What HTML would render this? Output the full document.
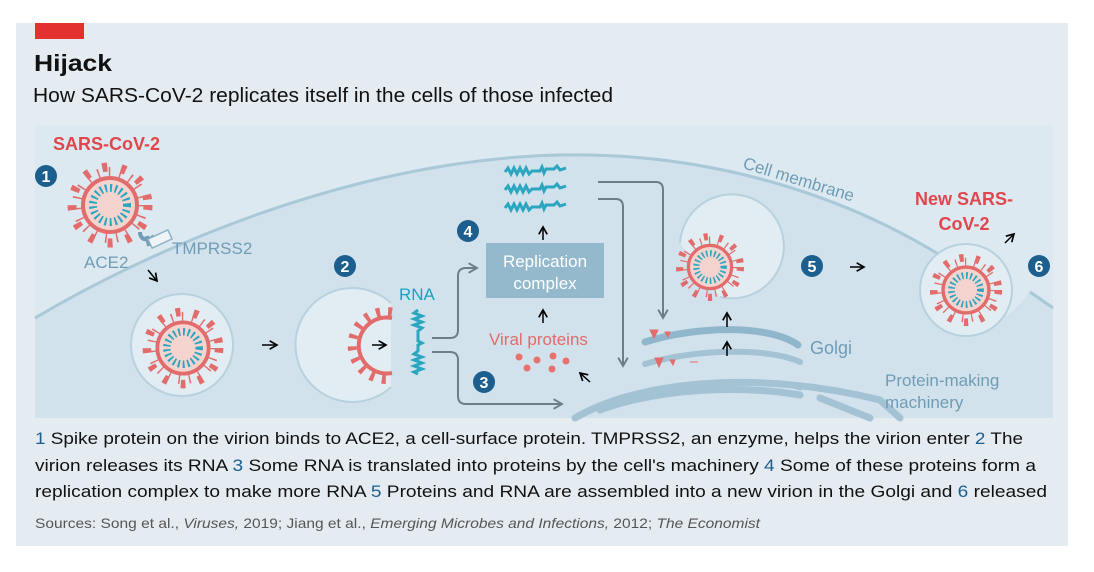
<!DOCTYPE html>
<html><head><meta charset="utf-8"><style>
html,body{margin:0;padding:0;background:#fff;width:1094px;height:572px;overflow:hidden}
svg{display:block}
text{font-family:"Liberation Sans",sans-serif}
</style></head><body>
<svg width="1094" height="572" viewBox="0 0 1094 572" xmlns="http://www.w3.org/2000/svg">
<defs>
<marker id="ah" viewBox="0 0 10 10" refX="8" refY="5" markerWidth="7" markerHeight="7" orient="auto"><path d="M1,1 L8,5 L1,9" fill="none" stroke="#000" stroke-width="1.6"/></marker>
<marker id="ag" viewBox="0 0 10 10" refX="8" refY="5" markerWidth="6" markerHeight="6" orient="auto"><path d="M1,1 L8,5 L1,9" fill="none" stroke="#6f7d86" stroke-width="1.6"/></marker>
<g id="virus">
<circle r="38" fill="none" stroke="#e26b6b" stroke-width="9" stroke-dasharray="5 14"/>
<circle r="33" fill="none" stroke="#e26b6b" stroke-width="10" stroke-dasharray="1.5 9.5"/>
<circle r="27" fill="#f5d4cf" stroke="#e26b6b" stroke-width="4"/>
<circle r="17" fill="none" stroke="#2aa6c0" stroke-width="8" stroke-dasharray="2 3"/>
<circle r="13" fill="#f5d4cf"/>
</g>
</defs>
<rect x="16" y="23" width="1052" height="523" fill="#e4ecf2"/>
<rect x="35" y="23" width="49" height="16" fill="#e3312d"/>
<text x="34" y="71" font-size="23" font-weight="bold" fill="#111" textLength="78" lengthAdjust="spacingAndGlyphs">Hijack</text>
<text x="33" y="102" font-size="20" fill="#111" textLength="580" lengthAdjust="spacingAndGlyphs">How SARS-CoV-2 replicates itself in the cells of those infected</text>
<rect x="35" y="125" width="1018" height="293" fill="#dde9f0"/>
<!-- cell body -->
<path d="M35,318 C150,250 350,160 560,155 C720,152 850,200 940,255 C930,300 960,330 975,327 C1005,325 1025,300 1030,290 L1053,305 L1053,418 L35,418 Z" fill="#d2e2ec"/>
<path d="M35,318 C150,250 350,160 560,155 C720,152 850,200 940,255" fill="none" stroke="#a9c8d8" stroke-width="3"/>
<path d="M1030,292 L1053,308" fill="none" stroke="#a9c8d8" stroke-width="3"/>
<!-- nucleus/ER -->
<g fill="none" stroke="#a3c2d4" stroke-width="7" stroke-linecap="round">
<path d="M575,418 C640,380 760,370 880,400 L900,418"/>
<path d="M600,410 C660,388 740,385 800,395"/>
<path d="M645,395 C700,380 770,378 800,388" stroke-width="5"/>
<path d="M645,364 C700,348 770,348 800,362" stroke-width="6"/>
<path d="M820,398 L870,418"/>
</g>
<path d="M645,342 C700,325 770,325 798,345" fill="none" stroke="#90b6cb" stroke-width="7" stroke-linecap="round"/>
<path d="M650,330 l8,0 l-4,8z M665,332 l5,0 l-2,5z M655,358 l8,0 l-4,9z M670,360 l5,0 l-2,5z M690,362 l8,0" fill="#e26b6b" stroke="#e26b6b"/>
<!-- step 1 -->
<text x="53" y="150" font-size="18" font-weight="bold" fill="#e0474c">SARS-CoV-2</text>
<use href="#virus" transform="translate(110,205)"/>
<path d="M140,232 c0,8 8,10 14,4 M147,236 l2,10" stroke="#6f9cb6" stroke-width="4" fill="none"/>
<rect x="149" y="234" width="22" height="10" transform="rotate(-25 160 239)" fill="#eef4f7" stroke="#8fb2c5" stroke-width="1.5"/>
<text x="84" y="268" font-size="17" fill="#6f9cb6">ACE2</text>
<text x="172" y="254" font-size="17" fill="#6f9cb6">TMPRSS2</text>
<path d="M148,270 L157,281" stroke="#000" stroke-width="1.5" marker-end="url(#ah)"/>
<circle cx="182" cy="345" r="51" fill="#e2edf3" stroke="#b7d1de" stroke-width="2"/>
<use href="#virus" transform="translate(183,348) scale(0.95)"/>
<path d="M262,345 L277,345" stroke="#000" stroke-width="1.5" marker-end="url(#ah)"/>
<!-- step 2 -->
<path d="M391,303 A57,57 0 1 0 391,387" fill="#e2edf3" stroke="#b7d1de" stroke-width="2"/>
<path d="M392,318 A28,28 0 1 0 392,373" fill="none" stroke="#e26b6b" stroke-width="4"/>
<path d="M392,312 A34,34 0 1 0 392,379" fill="none" stroke="#e26b6b" stroke-width="9" stroke-dasharray="4 8"/>
<path d="M372,345 L386,345" stroke="#000" stroke-width="1.5" marker-end="url(#ah)"/>
<text x="399" y="300" font-size="17" fill="#17a3bf">RNA</text>
<path d="M418,310 l-4,3 l8,3 l-8,3 l8,3 l-8,3 l8,3 l-4,3 l0,10 l4,2 l-4,2 l0,6 l-4,3 l8,3 l-8,3 l8,3 l-8,3 l8,3 l-8,3 l4,2" fill="none" stroke="#2aa6c0" stroke-width="3"/>
<circle cx="345" cy="266" r="11" fill="#1c5e8d"/><text x="345" y="272" font-size="16" font-weight="bold" fill="#fff" text-anchor="middle">2</text>
<!-- connectors -->
<g fill="none" stroke="#6f7d86" stroke-width="2">
<path d="M432,338 L450,338 Q458,338 458,330 L458,276 Q458,268 466,268 L477,268" marker-end="url(#ag)"/>
<path d="M432,352 L450,352 Q458,352 458,360 L458,396 Q458,404 466,404 L562,404" marker-end="url(#ag)"/>
<path d="M598,182 L656,182 Q663,182 663,190 L663,318" marker-end="url(#ag)"/>
<path d="M598,199 L616,199 Q623,199 623,207 L623,366" marker-end="url(#ag)"/>
</g>
<!-- RNA copies -->
<g fill="none" stroke="#2aa6c0" stroke-width="3">
<path d="M505,172 l3,-4 l3,6 l3,-6 l3,6 l3,-6 l3,6 l3,-6 l3,6 l3,-3 l8,0 l2,-4 l2,6 l2,-4 l8,0 l3,-3 l3,4 l6,-2"/>
<path d="M505,190 l3,-4 l3,6 l3,-6 l3,6 l3,-6 l3,6 l3,-6 l3,6 l3,-3 l8,0 l2,-4 l2,6 l2,-4 l8,0 l3,-3 l3,4 l6,-2"/>
<path d="M505,208 l3,-4 l3,6 l3,-6 l3,6 l3,-6 l3,6 l3,-6 l3,6 l3,-3 l8,0 l2,-4 l2,6 l2,-4 l8,0 l3,-3 l3,4 l6,-2"/>
</g>
<path d="M543,240 L543,227" stroke="#000" stroke-width="1.5" marker-end="url(#ah)"/>
<rect x="486" y="243" width="118" height="55" fill="#94b9cc"/>
<text x="545" y="267" font-size="17" fill="#fff" text-anchor="middle">Replication</text>
<text x="545" y="289" font-size="17" fill="#fff" text-anchor="middle">complex</text>
<path d="M543,323 L543,310" stroke="#000" stroke-width="1.5" marker-end="url(#ah)"/>
<text x="489" y="345" font-size="17" fill="#e26b6b">Viral proteins</text>
<g fill="#e8716f"><circle cx="519" cy="357" r="3.5"/><circle cx="537" cy="360" r="3.5"/><circle cx="553" cy="356" r="3.5"/><circle cx="566" cy="361" r="3.5"/><circle cx="527" cy="368" r="3.5"/><circle cx="552" cy="369" r="3.5"/></g>
<path d="M590,382 L580,373" stroke="#000" stroke-width="1.5" marker-end="url(#ah)"/>
<circle cx="468" cy="231" r="11" fill="#1c5e8d"/><text x="468" y="237" font-size="16" font-weight="bold" fill="#fff" text-anchor="middle">4</text>
<circle cx="484" cy="382" r="11" fill="#1c5e8d"/><text x="484" y="388" font-size="16" font-weight="bold" fill="#fff" text-anchor="middle">3</text>
<!-- step 5 -->
<path d="M680,243 A52,52 0 1 1 720,297" fill="#e2edf3" stroke="#b7d1de" stroke-width="2"/>
<use href="#virus" transform="translate(710,267) scale(0.8)"/>
<path d="M727,327 L727,313" stroke="#000" stroke-width="1.5" marker-end="url(#ah)"/>
<path d="M727,356 L727,342" stroke="#000" stroke-width="1.5" marker-end="url(#ah)"/>
<text x="810" y="354" font-size="18" fill="#6f9cb6">Golgi</text>
<text x="742" y="168" font-size="17" fill="#6f9cb6" transform="rotate(17 742 168)">Cell membrane</text>
<circle cx="812" cy="266" r="11" fill="#1c5e8d"/><text x="812" y="272" font-size="16" font-weight="bold" fill="#fff" text-anchor="middle">5</text>
<path d="M850,267 L864,267" stroke="#000" stroke-width="1.5" marker-end="url(#ah)"/>
<text x="885" y="386" font-size="17" fill="#6f9cb6">Protein-making</text>
<text x="885" y="408" font-size="17" fill="#6f9cb6">machinery</text>
<!-- step 6 -->
<circle cx="966" cy="290" r="46" fill="#e2edf3" stroke="#b7d1de" stroke-width="2"/>
<use href="#virus" transform="translate(966,290) scale(0.85)"/>
<text x="964" y="205" font-size="18" font-weight="bold" fill="#e0474c" text-anchor="middle">New SARS-</text>
<text x="964" y="230" font-size="18" font-weight="bold" fill="#e0474c" text-anchor="middle">CoV-2</text>
<path d="M1005,243 L1014,234" stroke="#000" stroke-width="1.5" marker-end="url(#ah)"/>
<circle cx="1039" cy="266" r="11" fill="#1c5e8d"/><text x="1039" y="272" font-size="16" font-weight="bold" fill="#fff" text-anchor="middle">6</text>
<circle cx="46" cy="176" r="11" fill="#1c5e8d"/><text x="46" y="182" font-size="16" font-weight="bold" fill="#fff" text-anchor="middle">1</text>
<!-- caption -->
<text x="35" y="444" font-size="17" fill="#111" textLength="988" lengthAdjust="spacingAndGlyphs"><tspan fill="#1c5e8d">1</tspan> Spike protein on the virion binds to ACE2, a cell-surface protein. TMPRSS2, an enzyme, helps the virion enter <tspan fill="#1c5e8d">2</tspan> The</text>
<text x="35" y="471" font-size="17" fill="#111" textLength="1001" lengthAdjust="spacingAndGlyphs">virion releases its RNA <tspan fill="#1c5e8d">3</tspan> Some RNA is translated into proteins by the cell's machinery <tspan fill="#1c5e8d">4</tspan> Some of these proteins form a</text>
<text x="35" y="497" font-size="17" fill="#111" textLength="1012" lengthAdjust="spacingAndGlyphs">replication complex to make more RNA <tspan fill="#1c5e8d">5</tspan> Proteins and RNA are assembled into a new virion in the Golgi and <tspan fill="#1c5e8d">6</tspan> released</text>
<text x="35" y="528" font-size="14" fill="#555" textLength="725" lengthAdjust="spacingAndGlyphs">Sources: Song et al., <tspan font-style="italic">Viruses,</tspan> 2019; Jiang et al., <tspan font-style="italic">Emerging Microbes and Infections,</tspan> 2012; <tspan font-style="italic">The Economist</tspan></text>
</svg>
</body></html>
